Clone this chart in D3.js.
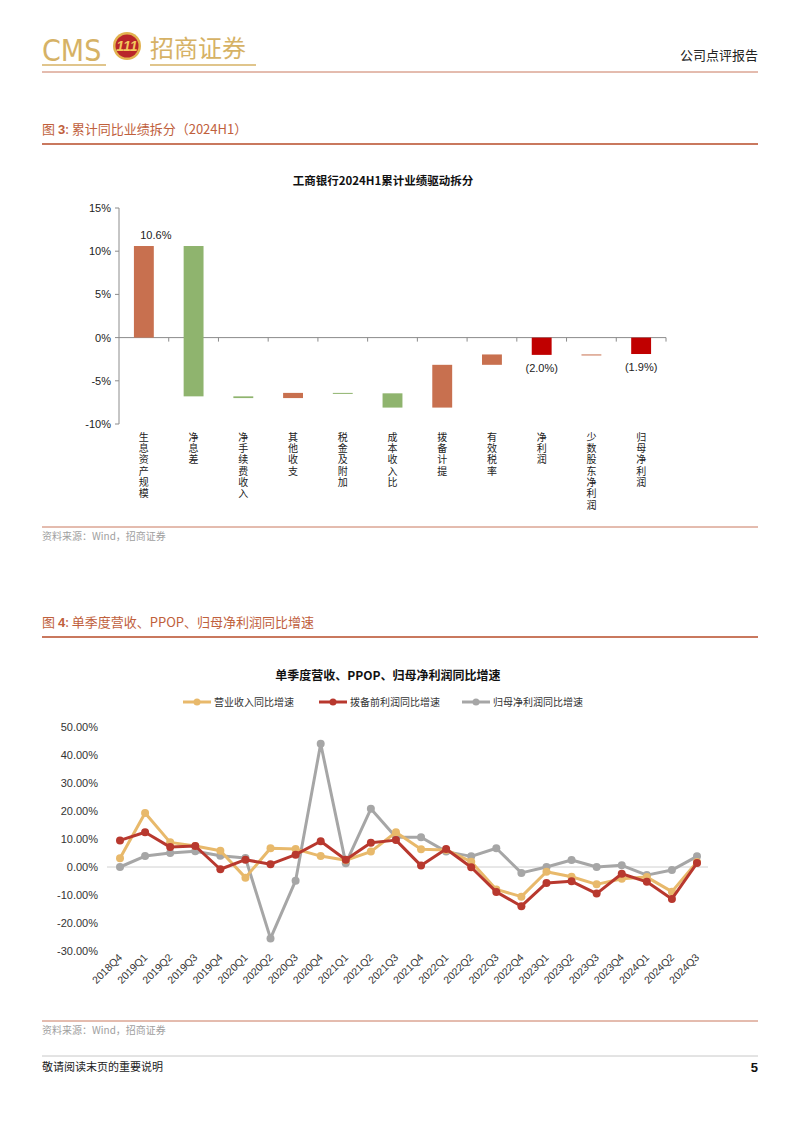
<!DOCTYPE html>
<html>
<head>
<meta charset="utf-8">
<script src="https://cdn.jsdelivr.net/npm/d3@7"></script>
<style>
  html, body { margin: 0; padding: 0; background: #fff; }
  svg { display: block; }
  .cn { font-family: "Noto Sans CJK SC", sans-serif; }
  .num { font-family: "Liberation Sans", Arial, sans-serif; }
  .vert { writing-mode: vertical-rl; text-orientation: upright; letter-spacing: 1.3px; }
</style>
</head>
<body>
<svg id="page" width="802" height="1133"></svg>
<script>
// Chart 1: waterfall of 2024H1 cumulative YoY drivers
const drivers = ["生息资产规模", "净息差", "净手续费收入", "其他收支", "税金及附加",
                 "成本收入比", "拨备计提", "有效税率", "净利润", "少数股东净利润", "归母净利润"];
const driverValues = [10.6, -17.4, -0.2, 0.6, -0.05, -1.65, 4.95, 1.2, -2.0, 0.05, -1.9];
const driverIsTotal = [false, false, false, false, false, false, false, false, true, false, true];
const driverLabels = ["10.6%", null, null, null, null, null, null, null, "(2.0%)", null, "(1.9%)"];
const yTicks1 = [-10, -5, 0, 5, 10, 15];

// Chart 2: quarterly YoY growth
const quarters = ["2018Q4", "2019Q1", "2019Q2", "2019Q3", "2019Q4", "2020Q1", "2020Q2", "2020Q3",
                  "2020Q4", "2021Q1", "2021Q2", "2021Q3", "2021Q4", "2022Q1", "2022Q2", "2022Q3",
                  "2022Q4", "2023Q1", "2023Q2", "2023Q3", "2023Q4", "2024Q1", "2024Q2", "2024Q3"];
const revenueYoY = [3.1, 19.3, 8.8, 7.5, 5.8, -3.8, 6.7, 6.4, 3.9, 2.4, 5.5, 12.4,
                    6.3, 6.1, 1.9, -8.0, -10.6, -1.7, -3.5, -6.2, -4.2, -3.6, -8.8, 1.8];
const ppopYoY = [9.5, 12.4, 7.1, 7.5, -0.8, 2.6, 1.0, 4.4, 9.2, 2.6, 8.7, 9.6,
                 0.5, 6.4, -0.1, -8.9, -14.0, -5.7, -5.1, -9.5, -2.4, -5.3, -11.4, 1.4];
const netProfitYoY = [0.0, 3.9, 5.0, 5.6, 4.0, 3.2, -25.5, -4.9, 44.0, 1.3, 20.8, 10.6,
                      10.6, 5.5, 3.8, 6.7, -2.1, 0.0, 2.5, 0.0, 0.6, -2.9, -1.1, 3.8];
const seriesNames = ["营业收入同比增速", "拨备前利润同比增速", "归母净利润同比增速"];
const seriesColors = ["#E8B96B", "#B8382E", "#A6A6A6"];
const yTicks2 = [-30, -20, -10, 0, 10, 20, 30, 40, 50];

const svg = d3.select("#page");
const titleColor = "#C0603C";
const ruleColor = "#C9785E";

// ---------- page header ----------
const gold = "#D6B266";
svg.append("text").attr("x", 42).attr("y", 61)
    .attr("font-family", "'Liberation Sans Narrow', 'DejaVu Sans Condensed', sans-serif")
    .attr("font-size", 30).attr("fill", gold).text("CMS");
svg.append("line").attr("x1", 42).attr("x2", 106).attr("y1", 65).attr("y2", 65)
    .attr("stroke", gold).attr("stroke-width", 1.5);
const logo = svg.append("g").attr("transform", "translate(127,46)");
logo.append("circle").attr("r", 14).attr("fill", "#E2B24F");
logo.append("circle").attr("r", 11.5).attr("fill", "#B8252A");
logo.append("text").attr("y", 5).attr("text-anchor", "middle").attr("class", "num")
    .attr("font-size", 14).attr("font-weight", "bold").attr("font-style", "italic")
    .attr("fill", "#F2C85C").text("111");
svg.append("text").attr("x", 150).attr("y", 57).attr("class", "cn")
    .attr("font-size", 24).attr("fill", gold).text("招商证券");
svg.append("line").attr("x1", 150).attr("x2", 256).attr("y1", 65).attr("y2", 65)
    .attr("stroke", gold).attr("stroke-width", 1.5);
svg.append("text").attr("x", 758).attr("y", 60).attr("text-anchor", "end").attr("class", "cn")
    .attr("font-size", 13).attr("fill", "#222").text("公司点评报告");
svg.append("line").attr("x1", 42).attr("x2", 758).attr("y1", 72).attr("y2", 72)
    .attr("stroke", ruleColor).attr("stroke-width", 1);

// figure caption with thick rule
function caption(y, num, title) {
    const t = svg.append("text").attr("x", 42).attr("y", y).attr("class", "cn")
        .attr("font-size", 13).attr("fill", titleColor);
    t.append("tspan").text("图 ");
    t.append("tspan").attr("class", "num").attr("font-weight", "bold").text(num);
    t.append("tspan").text(":  " + title);
    svg.append("line").attr("x1", 42).attr("x2", 758).attr("y1", y + 10).attr("y2", y + 10)
        .attr("stroke", ruleColor).attr("stroke-width", 2);
}
function source(y) {
    svg.append("line").attr("x1", 42).attr("x2", 758).attr("y1", y - 9).attr("y2", y - 9)
        .attr("stroke", ruleColor).attr("stroke-width", 1);
    svg.append("text").attr("x", 42).attr("y", y + 4).attr("class", "cn")
        .attr("font-size", 10).attr("fill", "#A0A0A0").text("资料来源：Wind，招商证券");
}

caption(134, "3", "累计同比业绩拆分（2024H1）");
caption(627, "4", "单季度营收、PPOP、归母净利润同比增速");

// ---------- chart 1: waterfall ----------
svg.append("text").attr("x", 383).attr("y", 185).attr("text-anchor", "middle").attr("class", "cn")
    .attr("font-size", 11.5).attr("font-weight", "bold").attr("fill", "#111")
    .text("工商银行2024H1累计业绩驱动拆分");

const x1 = d3.scaleBand().domain(drivers).range([119, 666]).paddingInner(0).paddingOuter(0);
const y1 = d3.scaleLinear().domain([-10, 15]).range([424, 208]);

// compute waterfall segments
let running = 0;
const segs = drivers.map((name, i) => {
    const v = driverValues[i];
    let a, b, color;
    if (driverIsTotal[i]) {
        a = 0; b = v; running = v; color = "#C00000";
    } else {
        a = running; b = running + v; running = b;
        color = v >= 0 ? "#C8704F" : "#8FB46E";
    }
    return { name, a, b, color, label: driverLabels[i] };
});

const axis1 = svg.append("g");
axis1.append("line").attr("x1", 119).attr("x2", 119).attr("y1", y1(15)).attr("y2", y1(-10))
    .attr("stroke", "#8C8C8C");
yTicks1.forEach(t => {
    axis1.append("line").attr("x1", 115).attr("x2", 119).attr("y1", y1(t)).attr("y2", y1(t))
        .attr("stroke", "#8C8C8C");
    axis1.append("text").attr("x", 111).attr("y", y1(t) + 4).attr("text-anchor", "end")
        .attr("class", "num").attr("font-size", 11).attr("fill", "#222").text(t + "%");
});

const bw = x1.bandwidth();
svg.append("g").selectAll("rect").data(segs).join("rect")
    .attr("x", d => x1(d.name) + bw * 0.3)
    .attr("width", bw * 0.4)
    .attr("y", d => y1(Math.max(d.a, d.b)))
    .attr("height", d => Math.max(1, Math.abs(y1(d.a) - y1(d.b))))
    .attr("fill", d => d.color);

// x-axis at zero with ticks between categories
axis1.append("line").attr("x1", 119).attr("x2", 666).attr("y1", y1(0)).attr("y2", y1(0))
    .attr("stroke", "#8C8C8C");
drivers.forEach(d => {
    const xr = x1(d) + bw;
    axis1.append("line").attr("x1", xr).attr("x2", xr).attr("y1", y1(0)).attr("y2", y1(0) + 4)
        .attr("stroke", "#8C8C8C");
});

// data labels
svg.append("g").selectAll("text").data(segs.filter(d => d.label)).join("text")
    .attr("x", d => x1(d.name) + bw / 2 + (d.b > 0 ? 12 : 0))
    .attr("y", d => d.b > 0 ? y1(d.b) - 7 : y1(d.b) + 17)
    .attr("text-anchor", "middle").attr("class", "num").attr("font-size", 11)
    .attr("fill", "#222").text(d => d.label);

// vertical category labels (top-to-bottom writing)
svg.append("g").selectAll("text").data(drivers).join("text")
    .attr("class", "cn vert").attr("font-size", 10).attr("fill", "#222")
    .attr("x", d => x1(d) + bw / 2).attr("y", 432)
    .text(d => d);

source(536);

// ---------- chart 2: lines ----------
svg.append("text").attr("x", 388).attr("y", 680).attr("text-anchor", "middle").attr("class", "cn")
    .attr("font-size", 12).attr("font-weight", "bold").attr("fill", "#111")
    .text("单季度营收、PPOP、归母净利润同比增速");

const x2 = d3.scalePoint().domain(quarters).range([120, 697]);
const y2 = d3.scaleLinear().domain([-30, 50]).range([951, 727]);

// legend
const legendX = [183, 319, 462];
const legend = svg.append("g");
seriesNames.forEach((n, i) => {
    const lx = legendX[i];
    legend.append("line").attr("x1", lx).attr("x2", lx + 28).attr("y1", 702).attr("y2", 702)
        .attr("stroke", seriesColors[i]).attr("stroke-width", 3);
    legend.append("circle").attr("cx", lx + 14).attr("cy", 702).attr("r", 3.5).attr("fill", seriesColors[i]);
    legend.append("text").attr("x", lx + 31).attr("y", 706).attr("class", "cn")
        .attr("font-size", 10).attr("fill", "#333").text(n);
});

// y axis labels
const yAxis2 = svg.append("g").attr("transform", "translate(106,0)")
    .call(d3.axisLeft(y2).tickValues(yTicks2).tickSize(0).tickPadding(8)
        .tickFormat(d => d.toFixed(2) + "%"));
yAxis2.select(".domain").remove();
yAxis2.selectAll("text").attr("font-family", "'Liberation Sans', Arial, sans-serif")
    .attr("font-size", 11).attr("fill", "#333");

// zero line
svg.append("line").attr("x1", 107).attr("x2", 708).attr("y1", y2(0)).attr("y2", y2(0))
    .attr("stroke", "#D0D0D0").attr("stroke-width", 1);

// x labels rotated
svg.append("g").selectAll("text").data(quarters).join("text")
    .attr("transform", d => `translate(${x2(d) + 3},${958}) rotate(-45)`)
    .attr("text-anchor", "end").attr("class", "num").attr("font-size", 10.5).attr("fill", "#333")
    .text(d => d);

const series = [revenueYoY, ppopYoY, netProfitYoY];
const line = d3.line().x((d, i) => x2(quarters[i])).y(d => y2(d));
// draw gray first so red and gold sit on top, like the reference
[2, 0, 1].forEach(s => {
    const g = svg.append("g");
    g.append("path").datum(series[s]).attr("d", line).attr("fill", "none")
        .attr("stroke", seriesColors[s]).attr("stroke-width", 3).attr("stroke-linejoin", "round");
    g.selectAll("circle").data(series[s]).join("circle")
        .attr("cx", (d, i) => x2(quarters[i])).attr("cy", d => y2(d)).attr("r", 4)
        .attr("fill", seriesColors[s]);
});

source(1030);

// ---------- footer ----------
svg.append("line").attr("x1", 42).attr("x2", 758).attr("y1", 1056).attr("y2", 1056)
    .attr("stroke", "#C8C8C8").attr("stroke-width", 1);
svg.append("text").attr("x", 42).attr("y", 1071).attr("class", "cn")
    .attr("font-size", 11).attr("fill", "#222").text("敬请阅读末页的重要说明");
svg.append("text").attr("x", 758).attr("y", 1072).attr("text-anchor", "end").attr("class", "num")
    .attr("font-size", 13).attr("font-weight", "bold").attr("fill", "#111").text("5");
</script>
</body>
</html>
